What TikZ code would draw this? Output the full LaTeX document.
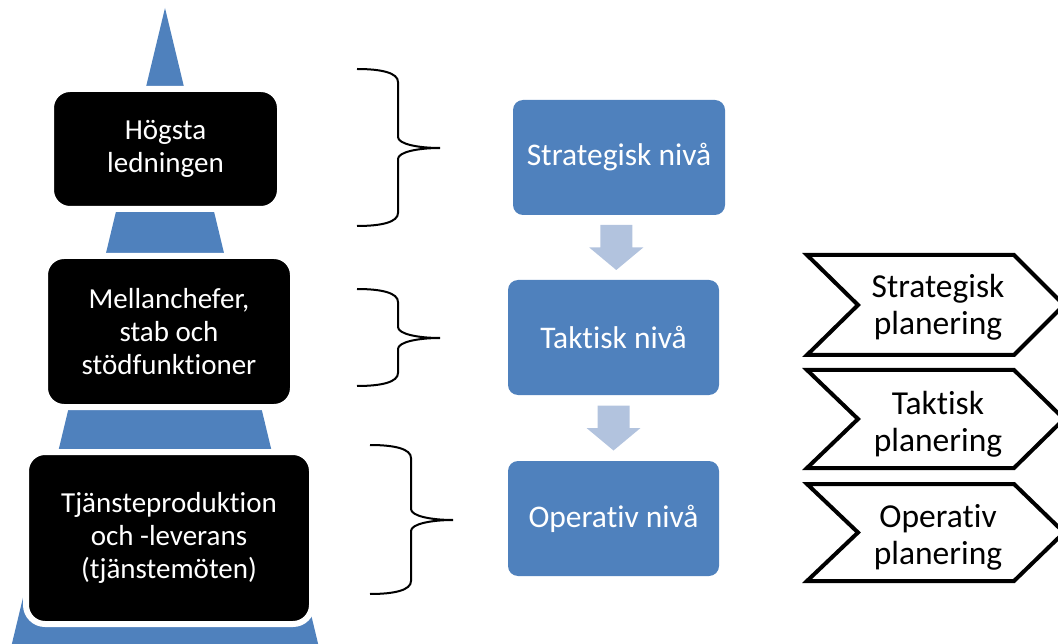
\documentclass[tikz,border=0pt]{standalone}
\usepackage{fontspec}
\setmainfont{Carlito}[Ligatures={NoCommon}]
\usetikzlibrary{calc}
\definecolor{tierblue}{RGB}{79,129,189}
\definecolor{flowarrow}{RGB}{178,195,222}

% curly brace: left x, spine x, tip x, top y, tip y, bottom y
\newcommand\levelbrace[6]{%
  \draw[bracepen] (#1,#4) .. controls ({#1+25},#4) and (#2,{#4+4}) .. (#2,{#4+13})
    -- (#2,{#5-11}) .. controls (#2,{#5-4}) and ({#2+20},#5) .. (#3,#5)
    .. controls ({#2+20},#5) and (#2,{#5+4}) .. (#2,{#5+11})
    -- (#2,{#6-13}) .. controls (#2,{#6-4}) and ({#1+25},#6) .. (#1,#6);}

\begin{document}
\begin{tikzpicture}[x=1pt,y=-1pt,
  tier/.style={fill=black, draw=white, line width=6pt, rounded corners=19pt,
    text=white, align=center, inner sep=0pt, font=\fontsize{29}{33}\selectfont},
  level/.style={fill=tierblue, rounded corners=10pt, text=white, inner sep=0pt,
    minimum width=212pt, minimum height=115pt, font=\fontsize{31.5}{36}\selectfont},
  bracepen/.style={line width=2pt, black},
  chev/.style={draw=black, line width=4pt, line join=miter},
  planlabel/.style={align=center, inner sep=0pt, font=\fontsize{33.5}{37}\selectfont},
  downarrow/.pic={\fill[flowarrow] (-16,-22.5) -- (16,-22.5) -- (16,0) -- (27,0)
    -- (0,22.5) -- (-27,0) -- (-16,0) -- cycle;}
]
\useasboundingbox (0,0) rectangle (1058,644);
\clip (0,0) rectangle (1058,644);

% pyramid behind the organisation tiers
\fill[tierblue] (165,8) -- (322,660) -- (8,660) -- cycle;

% organisation tiers
\node[tier, minimum width=229pt, minimum height=120pt] (top) at (165.5,149)
  {Högsta\\ledningen};
\node[tier, minimum width=248pt, minimum height=151pt] (mid) at (169,331.5)
  {Mellanchefer,\\stab och\\stödfunktioner};
\node[tier, minimum width=286pt, minimum height=172pt] (base) at (169,538)
  {Tjänsteproduktion\\och -leverans\\(tjänstemöten)};

% braces
\levelbrace{357}{398}{440}{69}{148}{226}
\levelbrace{357}{398}{440}{289}{338}{386}
\levelbrace{370}{411}{453}{445}{520}{594}

% levels
\node[level] (S) at (619,157.5) {Strategisk nivå};
\node[level, minimum width=211pt] (T) at (613.5,337.5) {Taktisk nivå};
\node[level, minimum width=211pt] (O) at (613.5,518.5) {Operativ nivå};

\pic at ($(S.south)!0.5!(T.north)$) {downarrow};
\pic at ($(T.south)!0.5!(O.north)$) {downarrow};

% planning chevrons
\foreach \m/\h in {305/50, 419/49, 532.5/48.5}{
  \draw[chev] (807,{\m-\h}) -- (1014,{\m-\h}) -- (1064,\m) -- (1014,{\m+\h})
    -- (807,{\m+\h}) -- (858,\m) -- cycle;
}
\node[planlabel] (p1) at (938,307) {Strategisk\\planering};
\node[planlabel] (p2) at (938,424) {Taktisk\\planering};
\node[planlabel] (p3) at (938,537) {Operativ\\planering};
\end{tikzpicture}
\end{document}
